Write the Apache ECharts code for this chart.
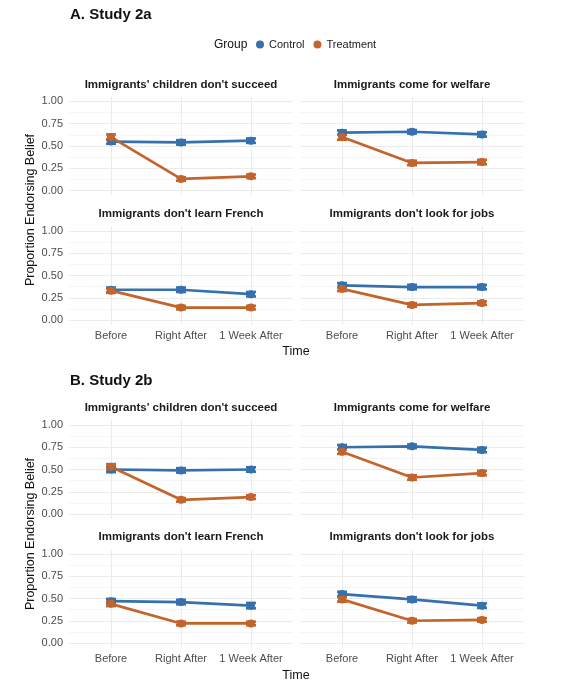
<!DOCTYPE html>
<html>
<head>
<meta charset="utf-8">
<script src="https://cdn.jsdelivr.net/npm/echarts@6/dist/echarts.min.js"></script>
<style>
  html, body { margin: 0; padding: 0; background: #fff; }
  #chart { width: 561px; height: 700px; }
</style>
</head>
<body>
<div id="chart"></div>
<script>
// x categories and facet titles
const times = ['Before', 'Right After', '1 Week After'];
const beliefs = [
  "Immigrants' children don't succeed",
  'Immigrants come for welfare',
  "Immigrants don't learn French",
  "Immigrants don't look for jobs"
];
const studies = ['A. Study 2a', 'B. Study 2b'];
const yTicks = [0, 0.25, 0.5, 0.75, 1];

// proportions, one row per belief (same order as beliefs)
const study2aControl = [[0.55, 0.54, 0.56], [0.65, 0.66, 0.63], [0.34, 0.34, 0.29], [0.39, 0.37, 0.37]];
const study2aTreatment = [[0.60, 0.13, 0.16], [0.60, 0.31, 0.32], [0.33, 0.14, 0.14], [0.35, 0.17, 0.19]];
const study2bControl = [[0.50, 0.49, 0.50], [0.75, 0.76, 0.72], [0.47, 0.46, 0.42], [0.55, 0.49, 0.42]];
const study2bTreatment = [[0.53, 0.16, 0.19], [0.70, 0.41, 0.46], [0.44, 0.22, 0.22], [0.49, 0.25, 0.26]];

// standard errors (error bar half heights)
const study2aControlSE = [[0.025, 0.025, 0.025], [0.025, 0.02, 0.025], [0.025, 0.025, 0.025], [0.025, 0.025, 0.025]];
const study2aTreatmentSE = [[0.03, 0.02, 0.02], [0.03, 0.025, 0.025], [0.025, 0.02, 0.02], [0.025, 0.02, 0.02]];
const study2bControlSE = [[0.03, 0.025, 0.025], [0.025, 0.02, 0.025], [0.025, 0.025, 0.03], [0.025, 0.025, 0.025]];
const study2bTreatmentSE = [[0.03, 0.02, 0.02], [0.025, 0.025, 0.025], [0.025, 0.02, 0.02], [0.025, 0.02, 0.02]];

const colControl = '#3671AE';
const colTreat = '#C2652C';
const font = 'Liberation Sans, Arial, sans-serif';

const chart = echarts.init(document.getElementById('chart'));

// panel layout (px)
const rowTops = [97, 226.5, 420.5, 549.5];
const colLefts = [69, 300];
const panelW = 224, panelH = 98;

let grids = [], xAxes = [], yAxes = [], series = [], graphics = [];

function renderErr(params, api) {
  const top = api.coord([api.value(0), api.value(2)]);
  const bot = api.coord([api.value(0), api.value(1)]);
  const w = 5;
  const st = { stroke: api.visual('color'), lineWidth: 2.6 };
  return {
    type: 'group',
    children: [
      { type: 'line', shape: { x1: top[0], y1: top[1], x2: bot[0], y2: bot[1] }, style: st },
      { type: 'line', shape: { x1: top[0] - w, y1: top[1], x2: top[0] + w, y2: top[1] }, style: st },
      { type: 'line', shape: { x1: bot[0] - w, y1: bot[1], x2: bot[0] + w, y2: bot[1] }, style: st }
    ]
  };
}

function addGroup(name, color, vals, se, gi) {
  series.push({
    name: name,
    type: 'line',
    xAxisIndex: gi,
    yAxisIndex: gi * 2,
    data: vals.map((v, i) => [i + 1, v]),
    symbol: 'circle',
    symbolSize: 8,
    lineStyle: { color: color, width: 2.7 },
    itemStyle: { color: color },
    emphasis: { disabled: true }
  });
  series.push({
    name: name,
    type: 'custom',
    xAxisIndex: gi,
    yAxisIndex: gi * 2,
    itemStyle: { color: color },
    data: vals.map((v, i) => [i + 1, v - se[i], v + se[i]]),
    renderItem: renderErr
  });
}

const allData = [
  [study2aControl, study2aTreatment, study2aControlSE, study2aTreatmentSE],
  [study2bControl, study2bTreatment, study2bControlSE, study2bTreatmentSE]
];

for (let s = 0; s < 2; s++) {
  for (let b = 0; b < 4; b++) {
    const gi = s * 4 + b;
    const row = s * 2 + Math.floor(b / 2);
    const col = b % 2;
    const bottomRow = Math.floor(b / 2) === 1;
    const left = colLefts[col], top = rowTops[row];
    grids.push({ left: left, top: top, width: panelW, height: panelH });

    xAxes.push({
      type: 'value', gridIndex: gi, min: 0.4, max: 3.6,
      axisLine: { show: false },
      axisTick: { show: false, customValues: [1, 2, 3] },
      axisLabel: {
        show: bottomRow, customValues: [1, 2, 3], margin: 6,
        formatter: v => times[Math.round(v) - 1],
        color: '#4d4d4d', fontSize: 11, fontFamily: font
      },
      splitLine: { show: true, lineStyle: { color: '#ebebeb', width: 1.1 } }
    });
    yAxes.push({
      type: 'value', gridIndex: gi, min: -0.05, max: 1.05,
      axisLine: { show: false },
      axisTick: { show: false, customValues: yTicks },
      axisLabel: {
        show: col === 0, customValues: yTicks, margin: 6,
        formatter: v => v.toFixed(2),
        color: '#4d4d4d', fontSize: 11, fontFamily: font
      },
      splitLine: { show: true, lineStyle: { color: '#ebebeb', width: 1.1 } }
    });
    // minor grid lines
    yAxes.push({
      type: 'value', gridIndex: gi, min: -0.05, max: 1.05, position: 'left',
      axisLine: { show: false },
      axisTick: { show: false, customValues: [0.125, 0.375, 0.625, 0.875] },
      axisLabel: { show: false },
      splitLine: { show: true, lineStyle: { color: '#f2f2f2', width: 0.8 } }
    });

    const d = allData[s];
    addGroup('Control', colControl, d[0][b], d[2][b], gi);
    addGroup('Treatment', colTreat, d[1][b], d[3][b], gi);

    // facet strip title
    graphics.push({
      type: 'text', x: left + panelW / 2, y: top - 12.5,
      style: { text: beliefs[b], textAlign: 'center', textVerticalAlign: 'middle',
        font: 'bold 11.5px ' + font, fill: '#1a1a1a' }
    });
  }
}

// study headings, axis titles
const studyY = [15, 381];
const yTitleY = [210, 534];
const timeY = [352, 676];
for (let s = 0; s < 2; s++) {
  graphics.push({ type: 'text', x: 70, y: studyY[s],
    style: { text: studies[s], textVerticalAlign: 'middle', font: 'bold 15px ' + font, fill: '#111' } });
  graphics.push({ type: 'text', x: 31, y: yTitleY[s], rotation: Math.PI / 2,
    style: { text: 'Proportion Endorsing Belief', textAlign: 'center', textVerticalAlign: 'middle',
      font: '12.5px ' + font, fill: '#111' } });
  graphics.push({ type: 'text', x: 296, y: timeY[s],
    style: { text: 'Time', textAlign: 'center', textVerticalAlign: 'middle',
      font: '12.5px ' + font, fill: '#111' } });
}
graphics.push({ type: 'text', x: 214, y: 45,
  style: { text: 'Group', textVerticalAlign: 'middle', font: '12px ' + font, fill: '#111' } });

chart.setOption({
  animation: false,
  backgroundColor: '#fff',
  legend: {
    data: ['Control', 'Treatment'],
    left: 251, top: 34,
    icon: 'circle', itemWidth: 8, itemHeight: 8, itemGap: 9,
    textStyle: { fontSize: 11, color: '#1a1a1a', fontFamily: font }
  },
  grid: grids,
  xAxis: xAxes,
  yAxis: yAxes,
  series: series,
  graphic: graphics
});
</script>
</body>
</html>
